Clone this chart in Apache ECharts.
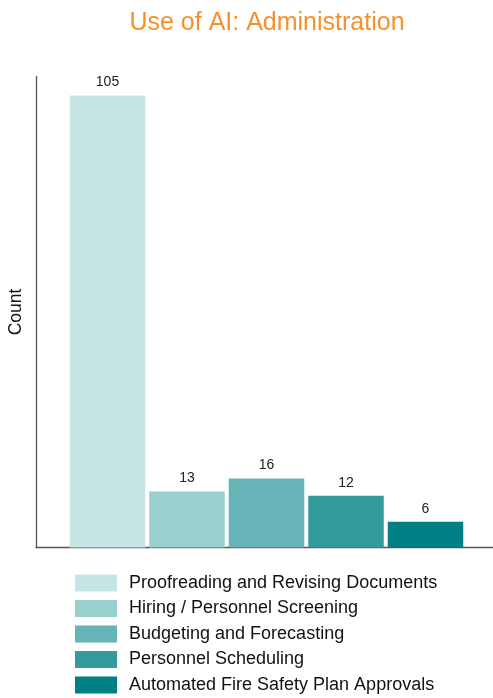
<!DOCTYPE html>
<html>
<head>
<meta charset="utf-8">
<script src="https://cdn.jsdelivr.net/npm/echarts@6/dist/echarts.min.js"></script>
<style>
  html, body { margin: 0; padding: 0; background: #fff; }
  #chart { width: 493px; height: 698px; }
</style>
</head>
<body>
<div id="chart"></div>
<script>
// Administrative uses of AI, counted by response
const categories = [
  'Proofreading and Revising Documents',
  'Hiring / Personnel Screening',
  'Budgeting and Forecasting',
  'Personnel Scheduling',
  'Automated Fire Safety Plan Approvals'
];
const counts = [105, 13, 16, 12, 6];
const colors = ['#c8e5e6', '#99cfcd', '#66b3b8', '#339a9e', '#008085'];

const FONT = '"Liberation Sans", Arial, Helvetica, sans-serif';

const series = categories.map((name, i) => ({
  name: name,
  type: 'bar',
  data: [counts[i]],
  barWidth: 75.5,
  barGap: '5.3%',
  itemStyle: { color: colors[i] },
  label: {
    show: true,
    position: 'top',
    distance: 6,
    color: '#222',
    fontSize: 14,
    fontFamily: FONT
  }
}));

const chart = echarts.init(document.getElementById('chart'));
chart.setOption({
  animation: false,
  title: {
    text: 'Use of AI: Administration',
    left: 262,
    textAlign: 'center',
    top: 6,
    textStyle: { color: '#f7902a', fontSize: 25, fontWeight: 'normal', fontFamily: FONT }
  },
  legend: {
    orient: 'vertical',
    left: 75,
    top: 574,
    height: 124,
    padding: 0,
    itemWidth: 42,
    itemHeight: 17,
    itemGap: 7.5,
    icon: 'rect',
    data: categories,
    textStyle: { color: '#111', fontSize: 18, fontFamily: FONT, padding: [0, 0, 0, 7] }
  },
  grid: { left: 36, right: -4, top: 76.5, bottom: 150.5, outerBoundsMode: 'none', containLabel: false },
  xAxis: {
    type: 'category',
    data: [''],
    axisLine: { lineStyle: { color: '#555', width: 1.3 } },
    axisTick: { show: false },
    axisLabel: { show: false }
  },
  yAxis: {
    type: 'value',
    min: 0,
    max: 109.4,
    name: 'Count',
    nameLocation: 'middle',
    nameGap: 11,
    nameTextStyle: { color: '#111', fontSize: 17.5, fontFamily: FONT },
    axisLine: { show: true, lineStyle: { color: '#555', width: 1.3 } },
    axisTick: { show: false },
    axisLabel: { show: false },
    splitLine: { show: false }
  },
  series: series
});
</script>
</body>
</html>
